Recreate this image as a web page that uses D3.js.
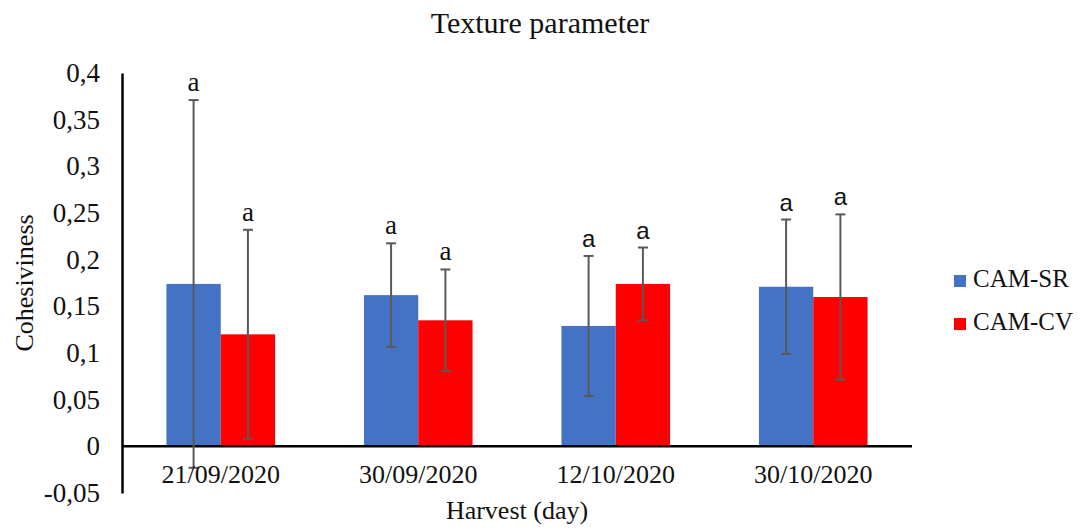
<!DOCTYPE html>
<html>
<head>
<meta charset="utf-8">
<script src="https://cdn.jsdelivr.net/npm/d3@7"></script>
<style>
  body { margin: 0; background: #fff; }
  svg { display: block; font-family: "Liberation Serif", "Times New Roman", serif; }
</style>
</head>
<body>
<div id="chart"></div>
<script>
const width = 1080
const height = 528

// harvest dates on the x axis
const dates = ["21/09/2020", "30/09/2020", "12/10/2020", "30/10/2020"]
const seriesNames = ["CAM-SR", "CAM-CV"]
const seriesColors = ["#4472c4", "#ff0000"]

// mean cohesiveness per date
const srMeans = [0.174, 0.162, 0.129, 0.171]
const cvMeans = [0.120, 0.135, 0.174, 0.160]
// standard deviations (error bar half-lengths)
const srErrors = [0.197, 0.0555, 0.075, 0.072]
const cvErrors = [0.112, 0.0545, 0.039, 0.0885]
// significance letters
const srLetters = ["a", "a", "a", "a"]
const cvLetters = ["a", "a", "a", "a"]

const yTicks = [-0.05, 0, 0.05, 0.1, 0.15, 0.2, 0.25, 0.3, 0.35, 0.4]

// build rows for drawing
const rows = []
dates.forEach((d, i) => {
  rows.push({ date: d, series: seriesNames[0], mean: srMeans[i], err: srErrors[i], letter: srLetters[i], idx: i })
  rows.push({ date: d, series: seriesNames[1], mean: cvMeans[i], err: cvErrors[i], letter: cvLetters[i], idx: i })
})

const margin = { top: 73, right: 168, bottom: 35, left: 122 }

const svg = d3.select("#chart").append("svg")
    .attr("width", width)
    .attr("height", height)

const x = d3.scaleBand()
    .domain(dates)
    .range([margin.left, width - margin.right])
    .padding(0)

const y = d3.scaleLinear()
    .domain([-0.05, 0.4])
    .range([height - margin.bottom, margin.top])

const inner = d3.scaleBand()
    .domain(seriesNames)
    .range([0, x.bandwidth() * 0.55])

const color = d3.scaleOrdinal().domain(seriesNames).range(seriesColors)

// decimal comma, plain hyphen for negatives (like Excel)
const fmt = v => String(+v.toFixed(2)).replace(".", ",")

// y axis labels
const yAxis = svg.append("g")
    .attr("transform", `translate(${margin.left},0)`)
    .call(d3.axisLeft(y).tickValues(yTicks).tickFormat(fmt).tickSize(0).tickPadding(22))
yAxis.select(".domain").attr("stroke", "#000").attr("stroke-width", 2.5)
yAxis.selectAll("text")
    .attr("font-family", "Liberation Serif, serif")
    .attr("font-size", 27)
    .attr("fill", "#111")

// bars
const groupOffset = (x.bandwidth() - inner.range()[1]) / 2
svg.append("g")
  .selectAll("rect")
  .data(rows)
  .join("rect")
    .attr("x", d => x(d.date) + groupOffset + inner(d.series))
    .attr("width", inner.bandwidth())
    .attr("y", d => y(d.mean))
    .attr("height", d => y(0) - y(d.mean))
    .attr("fill", d => color(d.series))

// x axis line at zero
svg.append("line")
    .attr("x1", margin.left)
    .attr("x2", width - margin.right)
    .attr("y1", y(0))
    .attr("y2", y(0))
    .attr("stroke", "#000")
    .attr("stroke-width", 2.5)

// error bars
const cx = d => x(d.date) + groupOffset + inner(d.series) + inner.bandwidth() / 2
const eb = svg.append("g")
    .attr("stroke", "#595959")
    .attr("stroke-width", 2)
  .selectAll("g")
  .data(rows)
  .join("g")
eb.append("line")
    .attr("x1", cx).attr("x2", cx)
    .attr("y1", d => y(d.mean + d.err))
    .attr("y2", d => y(d.mean - d.err))
eb.append("line")
    .attr("x1", d => cx(d) - 5).attr("x2", d => cx(d) + 5)
    .attr("y1", d => y(d.mean + d.err)).attr("y2", d => y(d.mean + d.err))
eb.append("line")
    .attr("x1", d => cx(d) - 5).attr("x2", d => cx(d) + 5)
    .attr("y1", d => y(d.mean - d.err)).attr("y2", d => y(d.mean - d.err))

// significance letters
svg.append("g")
  .selectAll("text")
  .data(rows)
  .join("text")
    .attr("x", cx)
    .attr("y", d => y(d.mean + d.err) - 9)
    .attr("text-anchor", "middle")
    // the letters on the last two dates were typed in a sans font
    .attr("font-family", d => d.idx >= 2 ? "Liberation Sans, sans-serif" : "Liberation Serif, serif")
    .attr("font-size", d => d.idx >= 2 ? 24 : 27)
    .attr("fill", "#111")
    .text(d => d.letter)

// x tick labels
svg.append("g")
  .selectAll("text")
  .data(dates)
  .join("text")
    .attr("x", d => x(d) + x.bandwidth() / 2)
    .attr("y", 483)
    .attr("text-anchor", "middle")
    .attr("font-size", 26)
    .attr("fill", "#111")
    .text(d => d)

// titles
svg.append("text")
    .attr("x", 540)
    .attr("y", 33)
    .attr("text-anchor", "middle")
    .attr("font-size", 30)
    .attr("fill", "#111")
    .text("Texture parameter")

svg.append("text")
    .attr("x", (margin.left + width - margin.right) / 2)
    .attr("y", 519)
    .attr("text-anchor", "middle")
    .attr("font-size", 26)
    .attr("fill", "#111")
    .text("Harvest (day)")

svg.append("text")
    .attr("transform", `translate(33,283) rotate(-90)`)
    .attr("text-anchor", "middle")
    .attr("font-size", 26)
    .attr("fill", "#111")
    .text("Cohesiviness")

// legend
const legend = svg.append("g")
  .selectAll("g")
  .data(seriesNames)
  .join("g")
    .attr("transform", (d, i) => `translate(954,${275 + i * 43})`)
legend.append("rect")
    .attr("width", 12)
    .attr("height", 12)
    .attr("fill", d => color(d))
legend.append("text")
    .attr("x", 19)
    .attr("y", 12)
    .attr("font-size", 25)
    .attr("fill", "#111")
    .text(d => d)
</script>
</body>
</html>
